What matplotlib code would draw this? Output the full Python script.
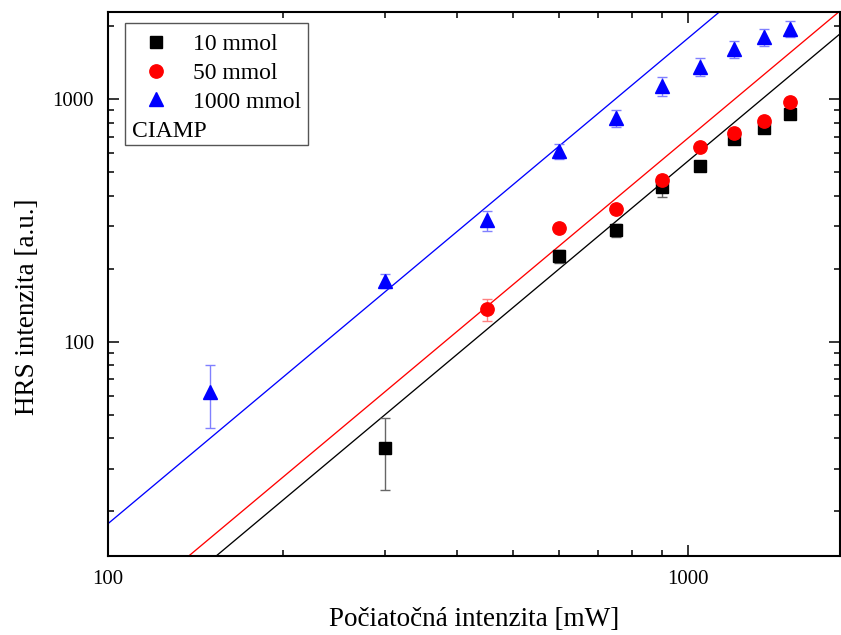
import numpy as np
import matplotlib
matplotlib.use("Agg")
import matplotlib.pyplot as plt
from matplotlib.ticker import FixedLocator, FuncFormatter, NullFormatter, LogLocator
from matplotlib.lines import Line2D
from matplotlib.patches import Rectangle

plt.rcParams['font.family'] = ['Liberation Serif', 'DejaVu Serif']

# ---------------- data ----------------
x_10 = [300, 600, 750, 900, 1050, 1200, 1350, 1500]
y_10 = [36.5, 225, 288, 434, 529, 684, 759, 867]
e_10 = [12, 14, 18, 38, 20, 25, 25, 25]

x_50 = [450, 600, 750, 900, 1050, 1200, 1350, 1500]
y_50 = [136, 294, 352, 464, 634, 725, 811, 972]
e_50 = [14, 10, 15, 20, 25, 30, 30, 35]

x_1000 = [150, 300, 450, 600, 750, 900, 1050, 1200, 1350, 1500]
y_1000 = [62, 178, 317, 611, 834, 1132, 1355, 1607, 1800, 1941]
e_1000 = [18, 12, 30, 44, 70, 100, 115, 125, 140, 145]

labels = ["10 mmol", "50 mmol", "1000 mmol"]
colors = ["black", "red", "blue"]
err_colors = ["#666666", "#ff8080", "#8080ff"]
markers = ["s", "o", "^"]
msizes = [8.2, 9.6, 10.5]

# power-law fits: y = A * (x/1000)**slope
fit_slope = 2.0
fit_at_1000 = [555, 690, 1780]

# ---------------- figure ----------------
fig = plt.figure(figsize=(8.41, 6.35), dpi=100)
ax = fig.add_axes([108 / 841, 1 - 556 / 635, 732 / 841, 544 / 635])
ax.set_xscale("log")
ax.set_yscale("log")

xs_all = [x_10, x_50, x_1000]
ys_all = [y_10, y_50, y_1000]
es_all = [e_10, e_50, e_1000]

xfit = np.logspace(np.log10(90), np.log10(2100), 200)
for i in range(3):
    ax.plot(xfit, fit_at_1000[i] * (xfit / 1000.0) ** fit_slope, "-",
            color=colors[i], lw=0.95, zorder=2)

for i in range(3):
    ax.errorbar(xs_all[i], ys_all[i], yerr=es_all[i], fmt="none",
                ecolor=err_colors[i], elinewidth=1.0, capsize=3.6,
                capthick=1.0, zorder=3)
    ax.plot(xs_all[i], ys_all[i], ls="none", marker=markers[i],
            ms=msizes[i], color=colors[i], mec=colors[i], zorder=4)

ax.set_xlim(100, 1828)
ax.set_ylim(13.1, 2282)

fmt = FuncFormatter(lambda v, p: "%d" % round(v))
ax.xaxis.set_major_locator(FixedLocator([100, 1000]))
ax.yaxis.set_major_locator(FixedLocator([100, 1000]))
ax.xaxis.set_minor_locator(LogLocator(base=10, subs=np.arange(2, 10)))
ax.yaxis.set_minor_locator(LogLocator(base=10, subs=np.arange(2, 10)))
ax.xaxis.set_major_formatter(fmt)
ax.yaxis.set_major_formatter(fmt)
ax.xaxis.set_minor_formatter(NullFormatter())
ax.yaxis.set_minor_formatter(NullFormatter())

ax.tick_params(which="both", direction="in", top=True, right=True, width=1.1)
ax.tick_params(which="major", length=8)
ax.tick_params(which="minor", length=4.5)
ax.tick_params(axis="x", which="major", labelsize=15, pad=10)
ax.tick_params(axis="y", which="major", labelsize=15, pad=10)
for s in ax.spines.values():
    s.set_linewidth(1.5)

ax.set_xlabel("Počiatočná intenzita [mW]", fontsize=19.5, labelpad=13)
ax.set_ylabel("HRS intenzita [a.u.]", fontsize=19.5, labelpad=9)
ax.yaxis.label.set_y(0.458)

# legend box with the sample name underneath the entries
handles = [Line2D([], [], ls="none", marker=markers[i], ms=msizes[i],
                  color=colors[i]) for i in range(3)]
ax.legend(handles, labels, loc="upper left", bbox_to_anchor=(0.024, 0.99),
          frameon=False, fontsize=17, handlelength=1.2, handletextpad=0.95,
          labelspacing=0.3, borderpad=0.2)
ax.add_patch(Rectangle((0.023, 0.756), 0.25, 0.224, transform=ax.transAxes,
                       fill=False, edgecolor="#555555", lw=1.0, zorder=5))
ax.text(0.033, 0.781, "CIAMP", transform=ax.transAxes, fontsize=17,
        va="center", ha="left")

fig.savefig("out.png", dpi=100)
